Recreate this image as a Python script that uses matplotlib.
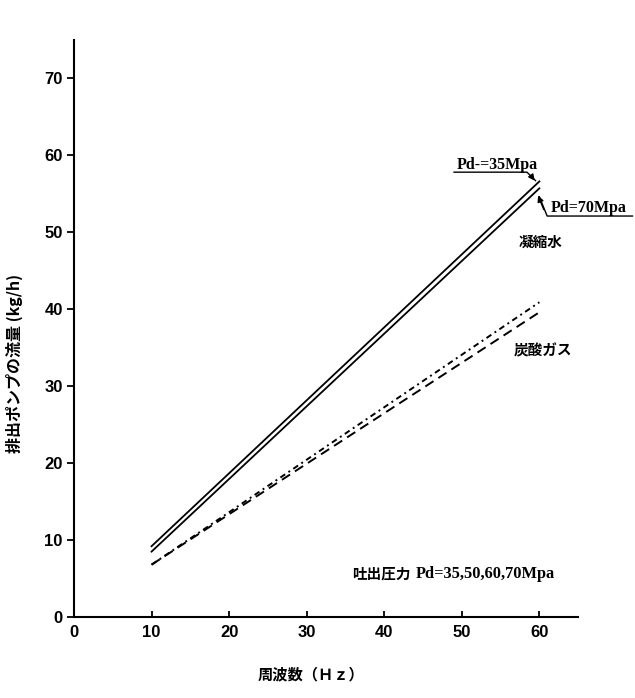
import matplotlib
matplotlib.use("Agg")
import matplotlib.pyplot as plt
from matplotlib import font_manager

# 周波数 (Hz) vs 排出ポンプの流量 (kg/h)
freq = [10, 60]
water_35 = [9.2, 56.6]
water_70 = [8.5, 55.7]
gas_upper = [6.8, 40.9]
gas_lower = [6.8, 39.6]

x_ticks = [0, 10, 20, 30, 40, 50, 60]
y_ticks = [0, 10, 20, 30, 40, 50, 60, 70]

names = {f.name for f in font_manager.fontManager.ttflist}
num_font = "Liberation Sans Narrow" if "Liberation Sans Narrow" in names else "Liberation Sans"
cjk = ["Noto Sans CJK JP", "DejaVu Sans"]
serif = ["Liberation Serif", "DejaVu Serif"]

fig = plt.figure(figsize=(6.35, 6.98), dpi=100)
ax = fig.add_axes([0.1165, 0.116, 0.794, 0.827])

ax.plot(freq, water_35, color="black", lw=1.3)
ax.plot(freq, water_70, color="black", lw=1.3)
ax.plot(freq, gas_upper, color="black", lw=1.4, linestyle=(0, (3, 2, 1, 2)))
ax.plot(freq, gas_lower, color="black", lw=1.4, linestyle=(0, (5, 3)))

ax.set_xlim(0, 65)
ax.set_ylim(0, 75)
ax.set_xticks(x_ticks)
ax.set_yticks(y_ticks)
for s in ["top", "right"]:
    ax.spines[s].set_visible(False)
for s in ["left", "bottom"]:
    ax.spines[s].set_linewidth(1.5)
ax.tick_params(direction="in", length=4, width=1.3, labelsize=12)
ax.tick_params(axis="x", pad=6)
ax.tick_params(axis="y", direction="out", length=5, pad=3)
for lab in ax.get_xticklabels() + ax.get_yticklabels():
    lab.set_fontfamily(num_font)
    lab.set_fontweight("bold")

ax.set_xlabel("周波数（Ｈｚ）", family=cjk, fontsize=11, fontweight="bold")
ax.xaxis.set_label_coords(0.47, -0.085)
ax.set_ylabel("排出ポンプの流量 (kg/h)", family=cjk, fontsize=11.5, fontweight="bold")
ax.yaxis.set_label_coords(-0.101, 0.44)

# Pd annotations
ax.plot([49.0, 58.4, 59.5], [57.8, 57.8, 56.7], color="black", lw=1.0, clip_on=False)
ax.annotate("", xy=(59.6, 56.4), xytext=(58.8, 57.5),
            arrowprops=dict(arrowstyle="-|>", color="black", lw=1.0, mutation_scale=9))
ax.text(49.3, 58.2, "Pd-=35Mpa", family=serif, fontsize=11.5, fontweight="bold")

ax.plot([72.0, 61.0, 60.0], [52.1, 52.1, 54.6], color="black", lw=1.0, clip_on=False)
ax.annotate("", xy=(59.7, 55.1), xytext=(60.7, 52.6),
            arrowprops=dict(arrowstyle="-|>", color="black", lw=1.0, mutation_scale=9))
ax.text(61.5, 52.6, "Pd=70Mpa", family=serif, fontsize=11.5, fontweight="bold")

ax.text(60.2, 48.7, "凝縮水", family=cjk, fontsize=10.5, fontweight="bold", ha="center", va="center")
ax.text(60.4, 34.7, "炭酸ガス", family=cjk, fontsize=10.5, fontweight="bold", ha="center", va="center")
ax.text(35.9, 5.6, "吐出圧力", family=cjk, fontsize=10.5, fontweight="bold", va="center")
ax.text(44.0, 5.6, "Pd=35,50,60,70Mpa", family=serif, fontsize=11.8, fontweight="bold", va="center")

fig.savefig("out.png", dpi=100)
